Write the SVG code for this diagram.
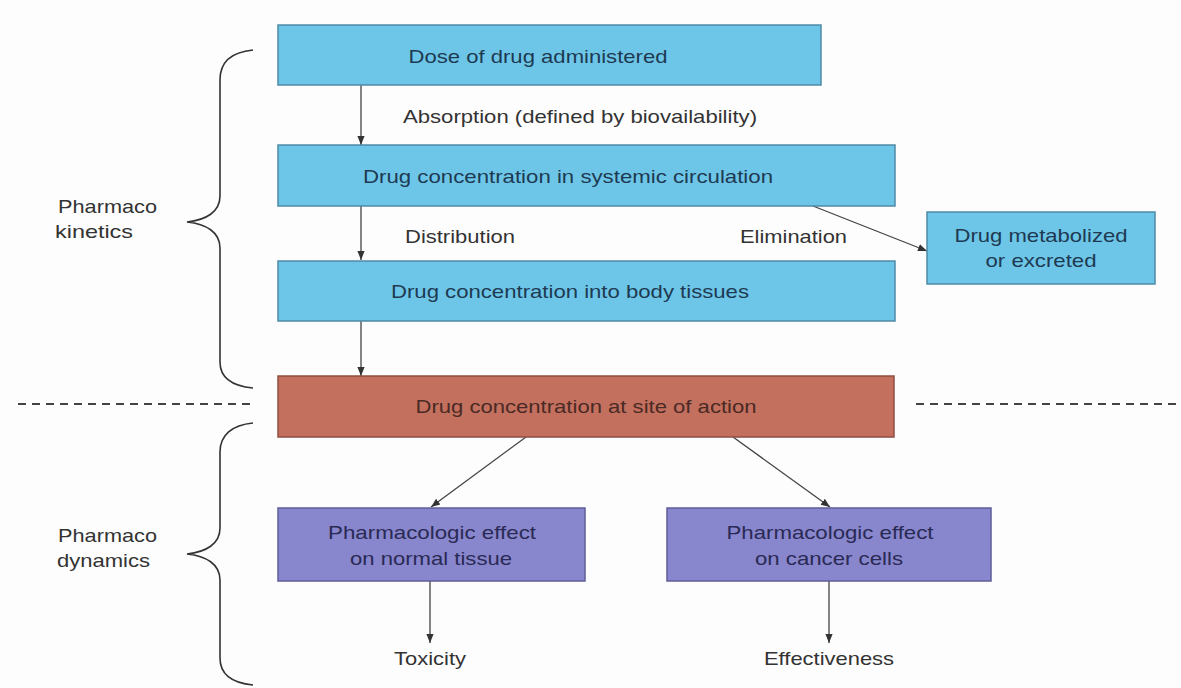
<svg xmlns="http://www.w3.org/2000/svg" width="1181" height="688" viewBox="0 0 1181 688">
<defs>
<style>
.t{font-family:"Liberation Sans",Arial,sans-serif;font-size:19px;fill:#333333}
.bt{font-family:"Liberation Sans",Arial,sans-serif;font-size:19px;fill:#1e3a52;text-anchor:middle}
.blue{fill:#6dc6e8;stroke:#4f8aa6;stroke-width:1.5}
.red{fill:#c4705f;stroke:#8e4d42;stroke-width:1.5}
.pur{fill:#8886cc;stroke:#5f5e98;stroke-width:1.5}
.con{stroke:#444;stroke-width:1.3;fill:none;marker-end:url(#ah)}
.brace{stroke:#333;stroke-width:1.6;fill:none}
.dash{stroke:#444;stroke-width:2;stroke-dasharray:8 6}
</style>
<marker id="ah" viewBox="0 0 10 10" refX="10" refY="5" markerWidth="9" markerHeight="9" markerUnits="userSpaceOnUse" orient="auto">
<path d="M0,1 L10,5 L0,9 z" fill="#333"/>
</marker>
</defs>
<rect width="1181" height="688" fill="#fdfdfd"/>

<g id="labels">
<path class="brace" d="M253,50 C232,52 220,62 220,80 L220,196 C220,212 206,220 187,222 C206,224 220,232 220,248 L220,362 C220,378 232,386 253,388"/>
<path class="brace" d="M253,423 C232,425 220,435 220,452 L220,528 C220,544 206,552 187,554 C206,556 220,564 220,580 L220,658 C220,674 232,683 253,685"/>
<text class="t" x="58" y="213" textLength="99" lengthAdjust="spacingAndGlyphs">Pharmaco</text>
<text class="t" x="55" y="238" textLength="78" lengthAdjust="spacingAndGlyphs">kinetics</text>
<text class="t" x="58" y="542" textLength="99" lengthAdjust="spacingAndGlyphs">Pharmaco</text>
<text class="t" x="57" y="567" textLength="93" lengthAdjust="spacingAndGlyphs">dynamics</text>
<line class="dash" x1="18" y1="404" x2="256" y2="404"/>
<line class="dash" x1="916" y1="404" x2="1181" y2="404"/>
</g>

<g id="connectors">
<line class="con" x1="361" y1="85" x2="361" y2="145"/>
<line class="con" x1="361" y1="206" x2="361" y2="260"/>
<line class="con" x1="813" y1="206" x2="927" y2="251"/>
<line class="con" x1="361" y1="321" x2="361" y2="376"/>
<line class="con" x1="526" y1="437" x2="431" y2="507"/>
<line class="con" x1="733" y1="437" x2="830" y2="507"/>
<line class="con" x1="430" y1="581" x2="430" y2="643"/>
<line class="con" x1="829" y1="581" x2="829" y2="643"/>
<text class="t" x="403" y="123" textLength="354" lengthAdjust="spacingAndGlyphs">Absorption (defined by biovailability)</text>
<text class="t" x="405" y="243" textLength="110" lengthAdjust="spacingAndGlyphs">Distribution</text>
<text class="t" x="740" y="243" textLength="107" lengthAdjust="spacingAndGlyphs">Elimination</text>
</g>

<g id="dose">
<rect class="blue" x="278" y="25" width="543" height="60"/>
<text class="bt" x="538" y="63" textLength="259" lengthAdjust="spacingAndGlyphs">Dose of drug administered</text>
</g>
<g id="systemic">
<rect class="blue" x="278" y="145" width="617" height="61"/>
<text class="bt" x="568" y="183" textLength="410" lengthAdjust="spacingAndGlyphs">Drug concentration in systemic circulation</text>
</g>
<g id="metabolized">
<rect class="blue" x="927" y="212" width="228" height="72"/>
<text class="bt" x="1041" y="242" textLength="173" lengthAdjust="spacingAndGlyphs">Drug metabolized</text>
<text class="bt" x="1041" y="267" textLength="111" lengthAdjust="spacingAndGlyphs">or excreted</text>
</g>
<g id="tissues">
<rect class="blue" x="278" y="261" width="617" height="60"/>
<text class="bt" x="570" y="298" textLength="358" lengthAdjust="spacingAndGlyphs">Drug concentration into body tissues</text>
</g>
<g id="site">
<rect class="red" x="278" y="376" width="616" height="61"/>
<text class="bt" x="586" y="413" style="fill:#4a2a24" textLength="341" lengthAdjust="spacingAndGlyphs">Drug concentration at site of action</text>
</g>
<g id="normal">
<rect class="pur" x="278" y="508" width="307" height="73"/>
<text class="bt" x="432" y="539" style="fill:#2a2a55" textLength="208" lengthAdjust="spacingAndGlyphs">Pharmacologic effect</text>
<text class="bt" x="431" y="565" style="fill:#2a2a55" textLength="162" lengthAdjust="spacingAndGlyphs">on normal tissue</text>
</g>
<g id="cancer">
<rect class="pur" x="667" y="508" width="324" height="73"/>
<text class="bt" x="830" y="539" style="fill:#2a2a55" textLength="207" lengthAdjust="spacingAndGlyphs">Pharmacologic effect</text>
<text class="bt" x="829" y="565" style="fill:#2a2a55" textLength="148" lengthAdjust="spacingAndGlyphs">on cancer cells</text>
</g>
<g id="toxicity">
<text class="t" x="430" y="665" text-anchor="middle" textLength="72" lengthAdjust="spacingAndGlyphs">Toxicity</text>
</g>
<g id="effectiveness">
<text class="t" x="829" y="665" text-anchor="middle" textLength="130" lengthAdjust="spacingAndGlyphs">Effectiveness</text>
</g>
</svg>
